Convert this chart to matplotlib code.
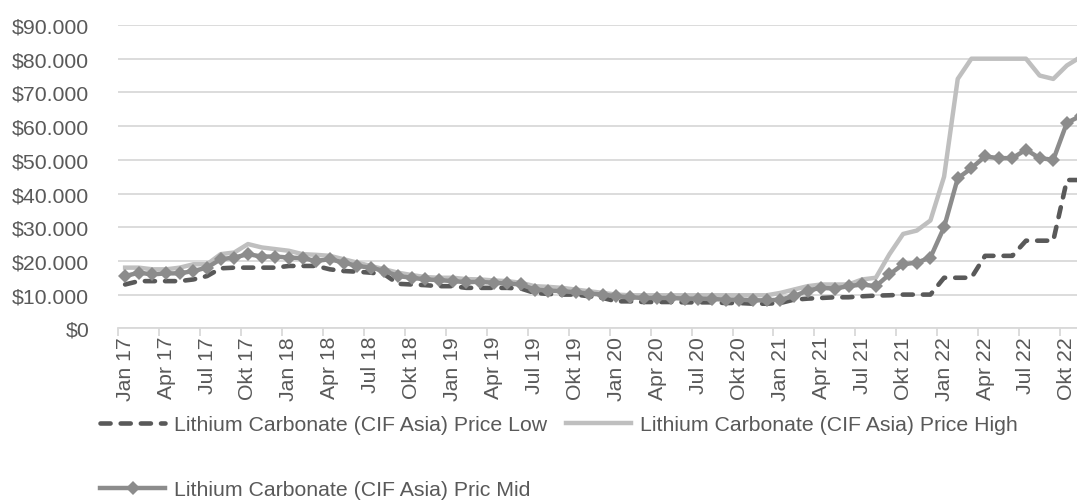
import matplotlib
matplotlib.use("Agg")
import matplotlib.pyplot as plt
from matplotlib.ticker import FuncFormatter

plt.rcParams['font.family'] = ['Liberation Sans', 'DejaVu Sans']

# Monthly data Jan 17 .. Nov 22 (USD per tonne)
price_low = [13000, 14000, 14000, 14000, 14000, 14500, 15500, 17800, 18000, 18000, 18000, 18000,
             18500, 18500, 18500, 17500, 17000, 16800, 16500, 16000, 13200, 13000, 12800, 12500,
             12500, 12000, 12000, 12000, 12000, 11800, 10500, 10200, 10000, 10000, 9500, 9000,
             8000, 8000, 7800, 7800, 7800, 7700, 7700, 7700, 7500, 7500, 7300, 7300,
             7500, 8500, 8800, 9000, 9200, 9200, 9500, 9700, 9800, 10000, 10000, 10000,
             15000, 15000, 15000, 21500, 21500, 21500, 26000, 26000, 26000, 44000, 44000]
price_high = [18000, 18000, 17500, 17500, 18000, 19000, 19000, 22000, 22500, 25000, 24000, 23500,
              23000, 22000, 21800, 21500, 20500, 19500, 18500, 17500, 16500, 15800, 15200, 15000,
              15000, 14600, 14500, 14200, 14000, 13500, 12500, 12300, 12000, 11500, 11000, 10500,
              10000, 9800, 9800, 9800, 9800, 9800, 9800, 9800, 9800, 9800, 9800, 9800,
              10500, 11500, 12500, 13000, 13000, 13000, 14500, 15000, 22000, 28000, 29000, 32000,
              45000, 74000, 80000, 80000, 80000, 80000, 80000, 75000, 74000, 78000, 80500]
price_mid = [15500, 16500, 16000, 16300, 16300, 17000, 18000, 20500, 21000, 22000, 21300, 21300,
             21000, 20800, 20000, 20500, 19500, 18500, 18000, 17000, 15500, 15000, 14500, 14300,
             14000, 13700, 13800, 13500, 13300, 13000, 11500, 11200, 11000, 10700, 10300, 10000,
             9500, 9200, 9000, 9000, 9000, 8800, 8800, 8700, 8500, 8500, 8300, 8300,
             8500, 9500, 11200, 12000, 11800, 12500, 13000, 12500, 16000, 19000, 19500, 21000,
             30000, 44500, 47500, 51000, 50500, 50500, 53000, 50500, 50000, 61000, 63000]
tick_labels = ['Jan 17', 'Apr 17', 'Jul 17', 'Okt 17', 'Jan 18', 'Apr 18', 'Jul 18', 'Okt 18',
               'Jan 19', 'Apr 19', 'Jul 19', 'Okt 19', 'Jan 20', 'Apr 20', 'Jul 20', 'Okt 20',
               'Jan 21', 'Apr 21', 'Jul 21', 'Okt 21', 'Jan 22', 'Apr 22', 'Jul 22', 'Okt 22']
series_names = ['Lithium Carbonate (CIF Asia) Price Low',
                'Lithium Carbonate (CIF Asia) Price High',
                'Lithium Carbonate (CIF Asia) Pric Mid']

W, H = 1077, 502
fig = plt.figure(figsize=(W / 100, H / 100), dpi=100)
left_px, right_px, top_px, bot_px = 118.3, 1087.4, 26.0, 329.3
ax = fig.add_axes([left_px / W, 1 - bot_px / H, (right_px - left_px) / W, (bot_px - top_px) / H])

x = list(range(len(price_low)))
c_low, c_high, c_mid = '#595959', '#bfbfbf', '#8c8c8c'
txt = '#595959'
FS = 15.3

l_low, = ax.plot(x, price_low, color=c_low, lw=3.3, dashes=(2.2, 2.2),
                 dash_capstyle='round', solid_capstyle='round', zorder=3)
l_high, = ax.plot(x, price_high, color=c_high, lw=3.2, solid_joinstyle='round', zorder=4)
l_mid, = ax.plot(x, price_mid, color=c_mid, lw=3.2, marker='D', ms=6.8,
                 markeredgewidth=0, zorder=5)

ax.set_xlim(-0.5, len(x) - 0.5)
ax.set_ylim(0, 90000)
ax.set_yticks(range(0, 90001, 10000))
ax.yaxis.set_major_formatter(FuncFormatter(lambda v, p: '$' + f'{int(v):,}'.replace(',', '.')))
ax.grid(axis='y', color='#d9d9d9', lw=1.3)
ax.set_axisbelow(True)
for s in ['top', 'right', 'left']:
    ax.spines[s].set_visible(False)
ax.spines['bottom'].set_color('#d9d9d9')
ax.spines['bottom'].set_linewidth(1.3)
ax.spines['bottom'].set_zorder(1)

ax.tick_params(axis='y', length=0, pad=21, labelsize=FS, labelcolor=txt)
# boundaries between quarters as tick marks, labels at quarter-start months
ax.set_xticks([i - 0.5 for i in range(0, len(x) + 1, 3)])
ax.set_xticklabels([])
ax.tick_params(axis='x', which='major', length=6, width=1.3, color='#d9d9d9')
ax.set_xticks(list(range(0, 3 * len(tick_labels), 3)), minor=True)
ax.set_xticklabels(tick_labels, minor=True, rotation=90, fontsize=FS, color=txt)
ax.tick_params(axis='x', which='minor', length=0, pad=5.5)

handles = [l_low, l_mid, l_high]
labels = [series_names[0], series_names[2], series_names[1]]
leg = fig.legend(handles, labels, ncol=2, loc='upper left',
                 bbox_to_anchor=(81 / W, 1 - 397 / H), frameon=False,
                 fontsize=FS, labelcolor=txt, handlelength=3.05, handletextpad=0.45,
                 columnspacing=0.85, labelspacing=2.17, numpoints=1)

fig.savefig('out.png', dpi=100)
